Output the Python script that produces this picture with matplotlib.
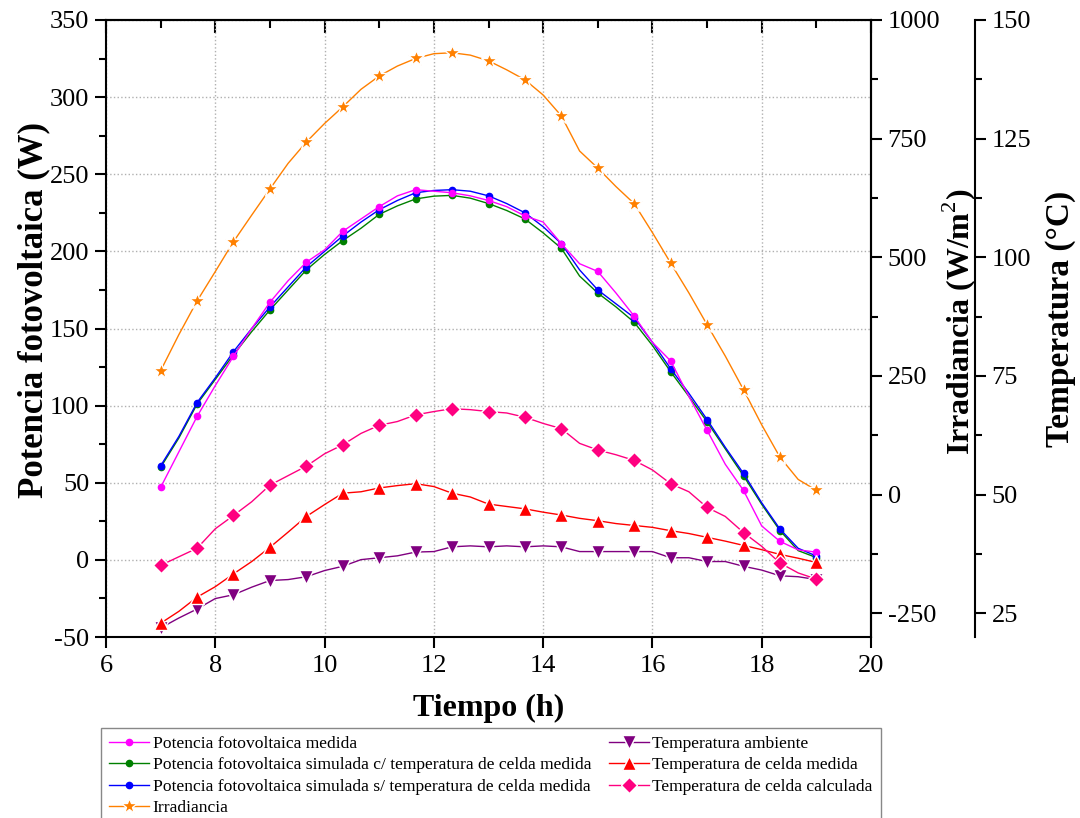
import matplotlib
matplotlib.use("Agg")
import matplotlib.pyplot as plt
from matplotlib.ticker import MultipleLocator

plt.rcParams['font.family'] = ['Liberation Serif', 'DejaVu Serif']
plt.rcParams['mathtext.fontset'] = 'custom'
plt.rcParams['mathtext.rm'] = 'Liberation Serif'
plt.rcParams['axes.unicode_minus'] = False

# Time of day (h), one reading every 20 minutes
tiempo = [7.0, 7.333, 7.667, 8.0, 8.333, 8.667, 9.0, 9.333, 9.667, 10.0,
          10.333, 10.667, 11.0, 11.333, 11.667, 12.0, 12.333, 12.667, 13.0,
          13.333, 13.667, 14.0, 14.333, 14.667, 15.0, 15.333, 15.667, 16.0,
          16.333, 16.667, 17.0, 17.333, 17.667, 18.0, 18.333, 18.667, 19.0]

# Power (W)
p_medida = [47, 70, 93, 113, 132, 150, 167, 181, 193, 201, 213, 221, 229, 236,
            240, 239, 238, 236, 233, 229, 223, 219, 205, 192, 187, 173, 158, 141,
            129, 106, 84, 62, 45, 22, 12, 6.5, 5]
p_sim_c = [60, 79, 101, 117, 133, 148, 162, 175, 188, 198, 207, 215, 224, 229.5,
           234, 235.8, 236.3, 234.5, 231, 226.5, 221, 212, 202, 184, 173, 164, 154,
           139, 122, 106, 89.5, 72, 54.5, 36, 19, 6, 1.5]
p_sim_s = [61, 80, 102, 118, 135, 150, 164, 177, 190, 200, 210, 219, 227, 233,
           238, 239.5, 240, 239, 236, 231, 225, 216, 205, 188, 175, 166, 157, 141,
           124, 108, 91, 73, 56, 37, 20, 7.5, 2.5]

# Irradiance (W/m2)
irradiancia = [261, 337, 408, 470, 533, 589, 644, 698, 743, 782, 817, 854, 882,
               903, 919, 929, 931, 926, 914, 895, 874, 842, 798, 724, 688, 649,
               613, 552, 488, 425, 358, 292, 221, 147, 79, 32, 9]

# Temperatures (C)
t_ambiente = [21.9, 24.0, 25.9, 28.1, 28.9, 30.5, 31.9, 32.1, 32.7, 34.0, 34.9,
              36.3, 36.7, 37.1, 37.9, 38.0, 39.0, 39.2, 39.0, 39.2, 39.0, 39.2,
              39.0, 38.0, 38.0, 38.0, 38.0, 38.0, 36.7, 36.7, 35.9, 35.9, 34.9,
              34.1, 32.9, 32.7, 32.1]
t_celda_med = [22.9, 25.4, 28.4, 30.6, 33.3, 35.9, 38.9, 42.1, 45.4, 47.9, 50.3,
               50.6, 51.4, 51.9, 52.3, 51.7, 50.3, 49.5, 48.0, 47.5, 47.0, 46.3,
               45.7, 45.0, 44.5, 43.9, 43.5, 43.1, 42.4, 41.8, 41.0, 40.2, 39.3,
               38.4, 37.4, 36.6, 35.7]
t_celda_calc = [35.1, 36.9, 38.7, 42.8, 45.6, 48.5, 52.0, 54.0, 56.0, 58.6, 60.5,
                62.9, 64.6, 65.4, 66.8, 67.5, 68.1, 67.9, 67.5, 67.2, 66.3, 65.0,
                63.9, 60.8, 59.4, 58.4, 57.2, 55.2, 52.3, 50.6, 47.3, 45.4, 42.0,
                39.1, 35.6, 33.5, 32.2]

fig = plt.figure(figsize=(10.8, 8.18), dpi=100)
ax = fig.add_axes([106 / 1080, 1 - 637 / 818, (871 - 106) / 1080, (637 - 20) / 818])
ax2 = ax.twinx()
ax3 = ax.twinx()
ax3.spines['right'].set_position(('axes', (975 - 106) / (871 - 106)))

lw = 1.0
h1, = ax.plot(tiempo, p_medida, color='#FF00FF', lw=lw, marker='o', ms=4.5,
              markevery=2, label='Potencia fotovoltaica medida', zorder=3)
h2, = ax.plot(tiempo, p_sim_c, color='#008000', lw=lw, marker='o', ms=4.5,
              markevery=2, label='Potencia fotovoltaica simulada c/ temperatura de celda medida', zorder=2)
h3, = ax.plot(tiempo, p_sim_s, color='#0000FF', lw=lw, marker='o', ms=4.5,
              markevery=2, label='Potencia fotovoltaica simulada s/ temperatura de celda medida', zorder=2.5)
h4, = ax2.plot(tiempo, irradiancia, color='#FF8000', lw=lw, marker='*', ms=12,
               mec='white', mew=1.0, markevery=2, label='Irradiancia')
h5, = ax3.plot(tiempo, t_ambiente, color='#800080', lw=lw, marker='v', ms=10,
               mec='white', mew=1.0, markevery=2, label='Temperatura ambiente')
h6, = ax3.plot(tiempo, t_celda_med, color='#FF0000', lw=lw, marker='^', ms=10,
               mec='white', mew=1.0, markevery=2, label='Temperatura de celda medida')
h7, = ax3.plot(tiempo, t_celda_calc, color='#FF0080', lw=lw, marker='D', ms=8.5,
               mec='white', mew=1.0, markevery=2, label='Temperatura de celda calculada')

# axes limits and ticks
ax.set_xlim(6, 20)
ax.set_ylim(-50, 350)
ax2.set_ylim(-300, 1000)
ax3.set_ylim(20, 150)

ax.xaxis.set_major_locator(MultipleLocator(2))
ax.yaxis.set_major_locator(MultipleLocator(50))
ax.yaxis.set_minor_locator(MultipleLocator(25))
ax2.yaxis.set_major_locator(MultipleLocator(250))
ax2.yaxis.set_minor_locator(MultipleLocator(125))
ax3.yaxis.set_major_locator(MultipleLocator(25))
ax3.yaxis.set_minor_locator(MultipleLocator(12.5))

ax.grid(True, which='major', color='#b0b0b0', ls=':', lw=1.0)

fs_tick = 19
ax.tick_params(axis='x', which='major', direction='out', length=8, width=1.5,
               labelsize=fs_tick, top=False, pad=5)
ax.tick_params(axis='x', which='minor', bottom=False, top=False)
ax.tick_params(axis='y', which='major', direction='out', length=8, width=1.5,
               labelsize=fs_tick, right=False, pad=4)
ax.tick_params(axis='y', which='minor', direction='out', length=5, width=1.5, right=False)

top = ax.secondary_xaxis('top')
top.xaxis.set_major_locator(MultipleLocator(2))
top.xaxis.set_minor_locator(MultipleLocator(1))
top.tick_params(which='major', direction='in', length=9, width=1.5, labeltop=False)
top.tick_params(which='minor', direction='in', length=6, width=1.5)
top.spines['top'].set_linewidth(1.5)

for a in (ax2, ax3):
    a.tick_params(axis='y', which='major', direction='out', length=8, width=1.5,
                  labelsize=fs_tick, pad=4)
    a.tick_params(axis='y', which='minor', direction='out', length=5, width=1.5)
    a.spines['right'].set_linewidth(1.5)
    for s in ('top', 'bottom', 'left'):
        a.spines[s].set_visible(False)

for s in ax.spines.values():
    s.set_linewidth(1.5)

ax.set_xlabel('Tiempo (h)', fontsize=23, fontweight='bold', labelpad=12)
ax.set_ylabel('Potencia fotovoltaica (W)', fontsize=25, fontweight='bold', labelpad=0)
ax2.set_ylabel('Irradiancia (W/m$^2$)', fontsize=23, fontweight='bold', labelpad=0)
ax3.set_ylabel('Temperatura (°C)', fontsize=24, fontweight='bold', labelpad=10)
ax.yaxis.label.set_y(0.53)
ax2.yaxis.label.set_y(0.51)
ax3.yaxis.label.set_y(0.515)

handles = [h1, h2, h3, h4, h5, h6, h7]
leg = fig.legend(handles, [h.get_label() for h in handles], ncol=2,
                 loc='upper left', bbox_to_anchor=(101 / 1080, 1 - 728 / 818),
                 fontsize=12.6, handlelength=2.3, handletextpad=0.2,
                 labelspacing=0.29, borderaxespad=0, borderpad=0.45,
                 columnspacing=1.0, fancybox=False, framealpha=1,
                 edgecolor='#888888')
leg.get_frame().set_linewidth(1.0)

fig.savefig('out.png', dpi=100)
